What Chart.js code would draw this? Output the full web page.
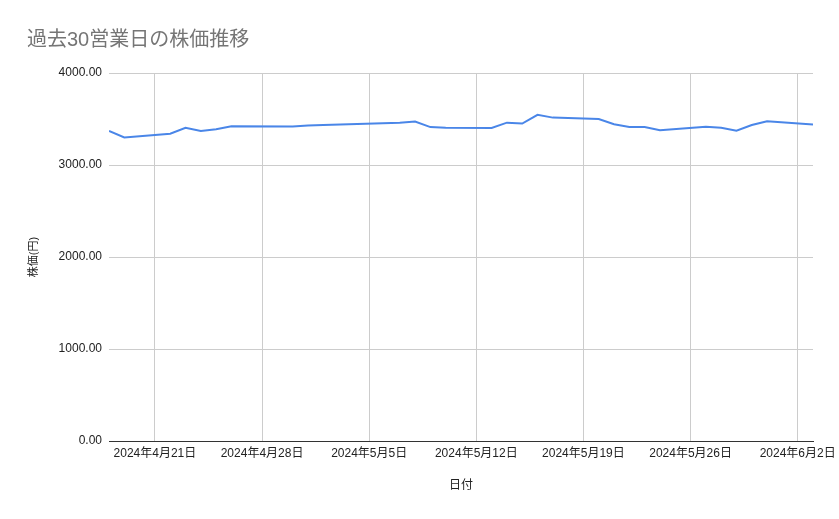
<!DOCTYPE html>
<html lang="ja">
<head>
<meta charset="UTF-8">
<title>過去30営業日の株価推移</title>
<script src="https://cdn.jsdelivr.net/npm/chart.js@4/dist/chart.umd.min.js"></script>
<style>
    html, body { margin: 0; padding: 0; background: #ffffff; }
    #chartBox { width: 839px; height: 519px; }
</style>
</head>
<body>
<div id="chartBox"><canvas id="stockChart"></canvas></div>
<script>
// Business days shown in the chart
const tradeDates = [
    '2024-04-18', '2024-04-19', '2024-04-22', '2024-04-23', '2024-04-24',
    '2024-04-25', '2024-04-26', '2024-04-30', '2024-05-01', '2024-05-02',
    '2024-05-07', '2024-05-08', '2024-05-09', '2024-05-10', '2024-05-13',
    '2024-05-14', '2024-05-15', '2024-05-16', '2024-05-17', '2024-05-20',
    '2024-05-21', '2024-05-22', '2024-05-23', '2024-05-24', '2024-05-27',
    '2024-05-28', '2024-05-29', '2024-05-30', '2024-05-31', '2024-06-03'
];

// Closing price (yen)
const prices = [
    3370, 3300, 3340, 3405, 3370,
    3388, 3420, 3418, 3430, 3436,
    3460, 3472, 3412, 3404, 3402,
    3460, 3450, 3545, 3515, 3500,
    3443, 3413, 3413, 3378, 3417,
    3405, 3373, 3435, 3475, 3440
];

// Weekly tick labels on the x axis (Sundays)
const weekTicks = [
    '2024-04-21', '2024-04-28', '2024-05-05', '2024-05-12',
    '2024-05-19', '2024-05-26', '2024-06-02'
];

const xMinDate = '2024-04-18';
const xMaxDate = '2024-06-03';
const yTicks = [0, 1000, 2000, 3000, 4000];

// Convert 'YYYY-MM-DD' to a day number so a linear axis can be used
function toDay(str) {
    const [y, m, d] = str.split('-').map(Number);
    return Date.UTC(y, m - 1, d) / 86400000;
}

function dayLabel(day) {
    const dt = new Date(day * 86400000);
    return `${dt.getUTCFullYear()}年${dt.getUTCMonth() + 1}月${dt.getUTCDate()}日`;
}

const points = tradeDates.map((d, i) => ({ x: toDay(d), y: prices[i] }));
const fontFamily = "Arial, 'Liberation Sans', 'Noto Sans CJK JP', sans-serif";

const ctx = document.getElementById('stockChart').getContext('2d');
new Chart(ctx, {
    type: 'line',
    data: {
        datasets: [{
            label: '株価',
            data: points,
            borderColor: '#4a86e8',
            borderWidth: 2,
            pointRadius: 0,
            pointHoverRadius: 0,
            tension: 0,
            fill: false
        }]
    },
    options: {
        responsive: true,
        maintainAspectRatio: false,
        animation: false,
        layout: { padding: { left: 27, right: 26, top: 0, bottom: 0 } },
        plugins: {
            legend: { display: false },
            tooltip: { enabled: false },
            title: {
                display: true,
                text: '過去30営業日の株価推移',
                align: 'start',
                color: '#757575',
                font: { family: fontFamily, size: 20, weight: 'normal' },
                padding: { top: 28, bottom: 21 }
            }
        },
        scales: {
            x: {
                type: 'linear',
                min: toDay(xMinDate),
                max: toDay(xMaxDate),
                afterBuildTicks: (scale) => {
                    scale.ticks = weekTicks.map(d => ({ value: toDay(d) }));
                },
                afterFit: (scale) => {
                    scale.height = 78;
                    scale.paddingLeft = 0;
                    scale.paddingRight = 0;
                },
                ticks: {
                    autoSkip: false,
                    maxRotation: 0,
                    padding: 5,
                    color: '#222222',
                    font: { family: fontFamily, size: 12 },
                    callback: (value) => dayLabel(value)
                },
                grid: { color: '#cccccc', drawTicks: false },
                border: { display: true, color: '#333333', width: 1 },
                title: {
                    display: true,
                    text: '日付',
                    color: '#222222',
                    font: { family: fontFamily, size: 12 },
                    padding: { top: 0, bottom: 26 }
                }
            },
            y: {
                min: 0,
                max: 4000,
                afterBuildTicks: (scale) => {
                    scale.ticks = yTicks.map(v => ({ value: v }));
                },
                afterFit: (scale) => {
                    scale.width = 82;
                    scale.paddingTop = 0;
                    scale.paddingBottom = 0;
                },
                ticks: {
                    padding: 7,
                    color: '#222222',
                    font: { family: fontFamily, size: 12 },
                    callback: (value) => Number(value).toFixed(2)
                },
                grid: {
                    drawTicks: false,
                    color: (c) => (c.tick && c.tick.value === 0 ? '#333333' : '#cccccc')
                },
                border: { display: false },
                title: {
                    display: true,
                    text: '株価(円)',
                    color: '#222222',
                    font: { family: fontFamily, size: 11 },
                    padding: { top: 0, bottom: 0 }
                }
            }
        }
    }
});
</script>
</body>
</html>
